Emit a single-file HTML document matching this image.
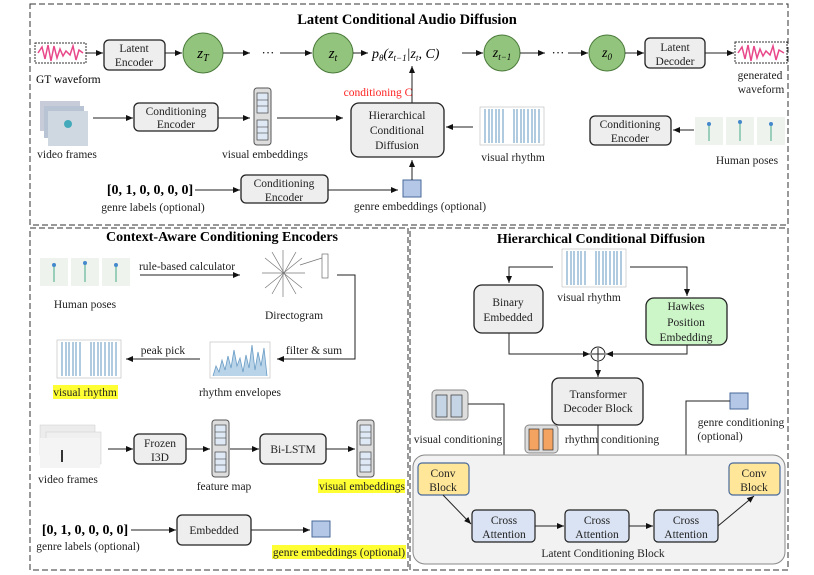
<!DOCTYPE html>
<html><head><meta charset="utf-8"><style>
body{margin:0;background:#fff}
svg{display:block;font-family:"Liberation Serif",serif}
.b{fill:#eeeeee;stroke:#222;stroke-width:1.3}
.t{font-size:11.5px;fill:#222;text-anchor:middle}
.l{stroke:#222;stroke-width:1;fill:none}
.h{fill:#ffff33}
</style></head><body>
<svg width="814" height="575" viewBox="0 0 814 575">
<defs>
<marker id="a" markerWidth="8" markerHeight="8" refX="7" refY="4" orient="auto" markerUnits="userSpaceOnUse"><path d="M0,1 L7,4 L0,7z" fill="#111"/></marker>
<g id="cube"><rect x="0" y="0" width="17" height="57" rx="3" fill="#ddd" stroke="#555"/>
<rect x="3" y="5" width="11" height="20" fill="#dfe9f5" stroke="#444" stroke-width=".7"/><line x1="3" y1="12" x2="14" y2="12" stroke="#444" stroke-width=".6"/><line x1="3" y1="18" x2="14" y2="18" stroke="#444" stroke-width=".6"/>
<rect x="3" y="32" width="11" height="20" fill="#dfe9f5" stroke="#444" stroke-width=".7"/><line x1="3" y1="39" x2="14" y2="39" stroke="#444" stroke-width=".6"/><line x1="3" y1="45" x2="14" y2="45" stroke="#444" stroke-width=".6"/></g>
<g id="rh"><rect x="0" y="0" width="64" height="38" fill="#fff" stroke="#bbb" stroke-width=".6"/>
<g stroke="#7aa8cc" stroke-width="1.2"><line x1="5" y1="2" x2="5" y2="36"/><line x1="9" y1="2" x2="9" y2="36"/><line x1="12" y1="2" x2="12" y2="36"/><line x1="16" y1="2" x2="16" y2="36"/><line x1="19" y1="2" x2="19" y2="36"/><line x1="23" y1="2" x2="23" y2="36"/><line x1="34" y1="2" x2="34" y2="36"/><line x1="37" y1="2" x2="37" y2="36"/><line x1="41" y1="2" x2="41" y2="36"/><line x1="44" y1="2" x2="44" y2="36"/><line x1="48" y1="2" x2="48" y2="36"/><line x1="52" y1="2" x2="52" y2="36"/><line x1="55" y1="2" x2="55" y2="36"/><line x1="59" y1="2" x2="59" y2="36"/></g></g>
<g id="pose"><rect x="0" y="0" width="28" height="28" fill="#eef3ee"/><rect x="31" y="0" width="28" height="28" fill="#eef3ee"/><rect x="62" y="0" width="28" height="28" fill="#eef3ee"/>
<g stroke="#4a8" stroke-width="1"><line x1="14" y1="6" x2="14" y2="24"/><line x1="45" y1="4" x2="45" y2="24"/><line x1="76" y1="6" x2="76" y2="24"/></g><g fill="#48c"><circle cx="14" cy="7" r="2"/><circle cx="45" cy="5" r="2"/><circle cx="76" cy="7" r="2"/></g></g>
</defs>

<!-- panels -->
<rect x="30" y="4" width="758" height="221" fill="none" stroke="#333" stroke-dasharray="6,3"/>
<rect x="30" y="228" width="378" height="342" fill="none" stroke="#333" stroke-dasharray="6,3"/>
<rect x="410" y="228" width="378" height="342" fill="none" stroke="#333" stroke-dasharray="6,3"/>

<text x="407" y="24" font-size="14.5" font-weight="bold" text-anchor="middle">Latent Conditional Audio Diffusion</text>

<!-- row 1 -->
<rect x="35" y="43" width="51" height="20" fill="#fff" stroke="#333" stroke-dasharray="2,1"/>
<path d="M38,53 L42,47 L45,59 L48,45 L51,61 L54,46 L57,58 L60,49 L63,56 L66,51 L70,55 L73,46 L76,60 L79,50 L83,53" stroke="#e8488a" stroke-width="1.5" fill="none"/>
<text x="36" y="83" font-size="11.5">GT waveform</text>
<line class="l" x1="86" y1="53" x2="103" y2="53" marker-end="url(#a)"/>
<rect class="b" x="104" y="40" width="61" height="30" rx="5"/>
<text class="t" x="134" y="52">Latent</text><text class="t" x="134" y="66">Encoder</text>
<line class="l" x1="165" y1="53" x2="182" y2="53" marker-end="url(#a)"/>
<circle cx="203" cy="53" r="20" fill="#93c47d" stroke="#4a7a3a"/>
<text x="203" y="58" font-size="15" font-style="italic" text-anchor="middle">z<tspan font-size="10" dy="3">T</tspan></text>
<line class="l" x1="223" y1="53" x2="250" y2="53" marker-end="url(#a)"/>
<text x="268" y="57" font-size="13" text-anchor="middle">···</text>
<line class="l" x1="280" y1="53" x2="312" y2="53" marker-end="url(#a)"/>
<circle cx="333" cy="53" r="20" fill="#93c47d" stroke="#4a7a3a"/>
<text x="333" y="58" font-size="15" font-style="italic" text-anchor="middle">z<tspan font-size="10" dy="3">t</tspan></text>
<line class="l" x1="353" y1="53" x2="368" y2="53" marker-end="url(#a)"/>
<text x="372" y="58" font-size="14" font-style="italic">p<tspan font-size="9" dy="3">θ</tspan><tspan dy="-3">(z</tspan><tspan font-size="9" dy="3">t−1</tspan><tspan dy="-3">|z</tspan><tspan font-size="9" dy="3">t</tspan><tspan dy="-3">, C)</tspan></text>
<line class="l" x1="462" y1="53" x2="483" y2="53" marker-end="url(#a)"/>
<circle cx="502" cy="53" r="18" fill="#93c47d" stroke="#4a7a3a"/>
<text x="502" y="57" font-size="14" font-style="italic" text-anchor="middle">z<tspan font-size="9" dy="3">t−1</tspan></text>
<line class="l" x1="520" y1="53" x2="545" y2="53" marker-end="url(#a)"/>
<text x="558" y="57" font-size="13" text-anchor="middle">···</text>
<line class="l" x1="568" y1="53" x2="588" y2="53" marker-end="url(#a)"/>
<circle cx="607" cy="53" r="18" fill="#93c47d" stroke="#4a7a3a"/>
<text x="607" y="57" font-size="14" font-style="italic" text-anchor="middle">z<tspan font-size="9" dy="3">0</tspan></text>
<line class="l" x1="625" y1="53" x2="644" y2="53" marker-end="url(#a)"/>
<rect class="b" x="645" y="38" width="60" height="30" rx="5"/>
<text class="t" x="675" y="51">Latent</text><text class="t" x="675" y="65">Decoder</text>
<line class="l" x1="705" y1="53" x2="734" y2="53" marker-end="url(#a)"/>
<rect x="735" y="42" width="52" height="21" fill="#fff" stroke="#333" stroke-dasharray="2,1"/>
<path d="M738,53 L742,47 L745,59 L748,45 L751,61 L754,46 L757,58 L760,49 L763,56 L766,51 L770,55 L773,46 L776,60 L779,50 L784,53" stroke="#e8488a" stroke-width="1.5" fill="none"/>
<text class="t" x="760" y="79">generated</text><text class="t" x="761" y="93">waveform</text>

<!-- row 2 -->
<rect x="40" y="101" width="40" height="30" fill="#c8ccd8"/><rect x="44" y="106" width="40" height="32" fill="#b8c4d4"/><rect x="48" y="111" width="40" height="35" fill="#cfd8e0"/>
<circle cx="68" cy="124" r="4" fill="#4ab"/>
<text class="t" x="67" y="158">video frames</text>
<line class="l" x1="93" y1="118" x2="133" y2="118" marker-end="url(#a)"/>
<rect class="b" x="134" y="103" width="84" height="28" rx="5"/>
<text class="t" x="176" y="115">Conditioning</text><text class="t" x="176" y="128">Encoder</text>
<line class="l" x1="218" y1="118" x2="250" y2="118" marker-end="url(#a)"/>
<use href="#cube" x="254" y="88"/>
<text class="t" x="265" y="158">visual embeddings</text>
<line class="l" x1="277" y1="118" x2="343" y2="118" marker-end="url(#a)"/>
<rect class="b" x="351" y="103" width="93" height="54" rx="8"/>
<text class="t" x="397" y="119">Hierarchical</text><text class="t" x="397" y="134">Conditional</text><text class="t" x="397" y="149">Diffusion</text>
<line class="l" x1="412" y1="103" x2="412" y2="66" marker-end="url(#a)"/>
<text x="378" y="96" font-size="11.5" fill="#f22" text-anchor="middle">conditioning C</text>
<use href="#rh" x="480" y="107"/>
<text class="t" x="513" y="161">visual rhythm</text>
<line class="l" x1="473" y1="127" x2="446" y2="127" marker-end="url(#a)"/>
<rect class="b" x="590" y="116" width="81" height="29" rx="5"/>
<text class="t" x="630" y="128">Conditioning</text><text class="t" x="630" y="142">Encoder</text>
<line class="l" x1="694" y1="130" x2="673" y2="130" marker-end="url(#a)"/>
<use href="#pose" x="695" y="117"/>
<text class="t" x="747" y="164">Human poses</text>

<!-- row 3 -->
<text x="150" y="194" font-size="14" font-weight="bold" text-anchor="middle">[0, 1, 0, 0, 0, 0]</text>
<text class="t" x="153" y="211">genre labels (optional)</text>
<line class="l" x1="195" y1="190" x2="240" y2="190" marker-end="url(#a)"/>
<rect class="b" x="241" y="175" width="87" height="28" rx="5"/>
<text class="t" x="284" y="187">Conditioning</text><text class="t" x="284" y="201">Encoder</text>
<line class="l" x1="328" y1="190" x2="398" y2="190" marker-end="url(#a)"/>
<rect x="403" y="180" width="18" height="17" fill="#b4c7e7" stroke="#4a6a9a"/>
<line class="l" x1="412" y1="180" x2="412" y2="160" marker-end="url(#a)"/>
<text class="t" x="420" y="210">genre embeddings (optional)</text>

<!-- bottom left -->
<text x="222" y="241" font-size="14" font-weight="bold" text-anchor="middle">Context-Aware Conditioning Encoders</text>
<use href="#pose" x="40" y="258"/>
<text class="t" x="85" y="308">Human poses</text>
<text class="t" x="187" y="270">rule-based calculator</text>
<line class="l" x1="140" y1="275" x2="240" y2="275" marker-end="url(#a)"/>
<g stroke="#777" stroke-width=".7"><line x1="283" y1="250" x2="283" y2="297"/><line x1="262" y1="273" x2="305" y2="273"/><line x1="265" y1="258" x2="302" y2="288"/><line x1="265" y1="288" x2="302" y2="258"/><line x1="272" y1="252" x2="296" y2="294"/><line x1="272" y1="294" x2="296" y2="252"/><line x1="300" y1="265" x2="322" y2="258"/></g>
<rect x="322" y="254" width="6" height="24" fill="#fff" stroke="#555" stroke-width=".6"/>
<text class="t" x="294" y="319">Directogram</text>
<path class="l" d="M337,275 H355 V359 H277" marker-end="url(#a)"/>
<text class="t" x="314" y="354">filter &amp; sum</text>
<rect x="210" y="342" width="60" height="36" fill="#fff" stroke="#bbb" stroke-width=".6"/>
<path d="M213,376 L216,366 L219,372 L222,360 L225,370 L228,356 L231,368 L234,350 L237,366 L240,358 L243,372 L246,355 L249,368 L252,345 L255,370 L258,352 L261,366 L264,348 L267,376" fill="#b9d3e8" stroke="#6a9cc5" stroke-width=".8"/>
<text class="t" x="240" y="396">rhythm envelopes</text>
<text class="t" x="163" y="354">peak pick</text>
<line class="l" x1="200" y1="359" x2="126" y2="359" marker-end="url(#a)"/>
<use href="#rh" x="57" y="340"/>
<rect class="h" x="53" y="385" width="65" height="14"/>
<text class="t" x="85" y="396">visual rhythm</text>
<rect x="40" y="425" width="55" height="30" fill="#ececec" stroke="#ccc" stroke-width=".5"/><rect x="46" y="432" width="55" height="32" fill="#f0f0f0" stroke="#ccc" stroke-width=".5"/><rect x="40" y="438" width="60" height="30" fill="#f4f4f4"/>
<line x1="62" y1="450" x2="62" y2="462" stroke="#333" stroke-width="2"/>
<text class="t" x="68" y="483">video frames</text>
<line class="l" x1="108" y1="449" x2="133" y2="449" marker-end="url(#a)"/>
<rect class="b" x="134" y="434" width="52" height="30" rx="5"/>
<text class="t" x="160" y="447">Frozen</text><text class="t" x="160" y="461">I3D</text>
<line class="l" x1="186" y1="449" x2="210" y2="449" marker-end="url(#a)"/>
<use href="#cube" x="212" y="420"/>
<text class="t" x="224" y="490">feature map</text>
<line class="l" x1="230" y1="449" x2="259" y2="449" marker-end="url(#a)"/>
<rect class="b" x="260" y="434" width="66" height="30" rx="5"/>
<text class="t" x="293" y="453">Bi-LSTM</text>
<line class="l" x1="326" y1="449" x2="355" y2="449" marker-end="url(#a)"/>
<use href="#cube" x="357" y="420"/>
<rect class="h" x="318" y="479" width="87" height="14"/>
<text class="t" x="362" y="490">visual embeddings</text>
<text x="85" y="534" font-size="14" font-weight="bold" text-anchor="middle">[0, 1, 0, 0, 0, 0]</text>
<text class="t" x="88" y="550">genre labels (optional)</text>
<line class="l" x1="131" y1="530" x2="176" y2="530" marker-end="url(#a)"/>
<rect class="b" x="177" y="515" width="74" height="30" rx="5"/>
<text class="t" x="214" y="534">Embedded</text>
<line class="l" x1="251" y1="530" x2="310" y2="530" marker-end="url(#a)"/>
<rect x="312" y="521" width="18" height="16" fill="#b4c7e7" stroke="#4a6a9a"/>
<rect class="h" x="272" y="545" width="134" height="14"/>
<text class="t" x="339" y="556">genre embeddings (optional)</text>

<!-- bottom right -->
<text x="601" y="243" font-size="14" font-weight="bold" text-anchor="middle">Hierarchical Conditional Diffusion</text>
<use href="#rh" x="562" y="249"/>
<text class="t" x="589" y="301">visual rhythm</text>
<path class="l" d="M553,267 H509 V283" marker-end="url(#a)"/>
<path class="l" d="M630,267 H687 V296" marker-end="url(#a)"/>
<rect class="b" x="474" y="285" width="69" height="48" rx="8"/>
<text class="t" x="508" y="306">Binary</text><text class="t" x="508" y="321">Embedded</text>
<rect x="646" y="298" width="81" height="47" rx="8" fill="#ccf5c8" stroke="#222" stroke-width="1.3"/>
<text class="t" x="686" y="310">Hawkes</text><text class="t" x="686" y="326">Position</text><text class="t" x="686" y="341">Embedding</text>
<path class="l" d="M509,333 V354 H590" marker-end="url(#a)"/>
<path class="l" d="M687,345 V354 H606" marker-end="url(#a)"/>
<circle cx="598" cy="354" r="7" fill="#fff" stroke="#222"/>
<path d="M592,354 H604 M598,348 V360" stroke="#222"/>
<line class="l" x1="598" y1="361" x2="598" y2="377" marker-end="url(#a)"/>
<rect class="b" x="552" y="378" width="91" height="47" rx="7"/>
<text class="t" x="598" y="398">Transformer</text><text class="t" x="598" y="412">Decoder Block</text>
<rect x="432" y="390" width="36" height="30" rx="4" fill="#ddd" stroke="#888"/>
<rect x="436" y="395" width="11" height="22" fill="#c5d5e5" stroke="#333" stroke-width=".7"/><rect x="451" y="395" width="11" height="22" fill="#c5d5e5" stroke="#333" stroke-width=".7"/>
<text class="t" x="458" y="443">visual conditioning</text>
<path class="l" d="M468,404 H504 V509" marker-end="url(#a)"/>
<rect x="525" y="425" width="33" height="28" rx="4" fill="#ddd" stroke="#888"/>
<rect x="529" y="429" width="10" height="21" fill="#f4a460" stroke="#333" stroke-width=".7"/><rect x="543" y="429" width="10" height="21" fill="#f4a460" stroke="#333" stroke-width=".7"/>
<line class="l" x1="598" y1="425" x2="598" y2="509" marker-end="url(#a)"/>
<text class="t" x="612" y="443">rhythm conditioning</text>
<rect x="730" y="393" width="18" height="16" fill="#b4c7e7" stroke="#4a6a9a"/>
<path class="l" d="M730,401 H686 V509" marker-end="url(#a)"/>
<text class="t" x="741" y="426">genre conditioning</text>
<text class="t" x="720" y="440">(optional)</text>
<rect x="413" y="455" width="372" height="109" rx="12" fill="#f2f2f2" stroke="#888"/>
<rect x="418" y="463" width="51" height="32" rx="4" fill="#ffe699" stroke="#4a6a9a" stroke-width="1.2"/>
<text class="t" x="443" y="477">Conv</text><text class="t" x="443" y="491">Block</text>
<rect x="729" y="463" width="51" height="32" rx="4" fill="#ffe699" stroke="#4a6a9a" stroke-width="1.2"/>
<text class="t" x="754" y="477">Conv</text><text class="t" x="754" y="491">Block</text>
<line class="l" x1="443" y1="495" x2="471" y2="524" marker-end="url(#a)"/>
<rect x="472" y="510" width="63" height="32" rx="4" fill="#dae3f3" stroke="#222" stroke-width="1.2"/>
<text class="t" x="504" y="524">Cross</text><text class="t" x="504" y="538">Attention</text>
<line class="l" x1="535" y1="526" x2="564" y2="526" marker-end="url(#a)"/>
<rect x="565" y="510" width="64" height="32" rx="4" fill="#dae3f3" stroke="#222" stroke-width="1.2"/>
<text class="t" x="597" y="524">Cross</text><text class="t" x="597" y="538">Attention</text>
<line class="l" x1="629" y1="526" x2="653" y2="526" marker-end="url(#a)"/>
<rect x="654" y="510" width="64" height="32" rx="4" fill="#dae3f3" stroke="#222" stroke-width="1.2"/>
<text class="t" x="686" y="524">Cross</text><text class="t" x="686" y="538">Attention</text>
<line class="l" x1="718" y1="526" x2="754" y2="496" marker-end="url(#a)"/>
<text class="t" x="603" y="557">Latent Conditioning Block</text>
</svg>
</body></html>
